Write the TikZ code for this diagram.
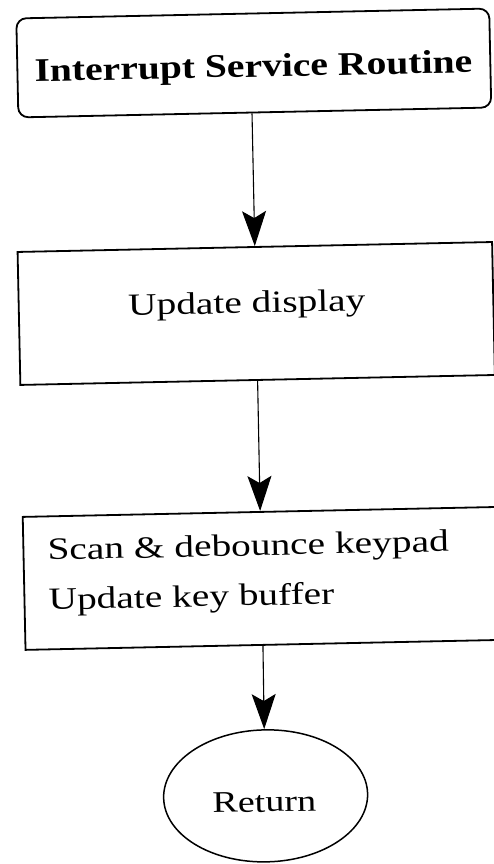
\documentclass[tikz,border=0pt]{standalone}
\usepackage{fontspec}
\usetikzlibrary{arrows.meta,shapes.geometric}
% wide serif faces for the flowchart labels
\newfontfamily\headfont[FakeStretch=1.2]{Liberation Serif}
\newfontfamily\bodyfont[FakeStretch=1.27]{Liberation Serif}
\tikzset{
  boxline/.style={draw=black, line width=1.8pt},
  stepbox/.style={boxline, rectangle, inner sep=0pt},
  label text/.style={inner sep=0pt, font=\bodyfont\fontsize{31}{34}\selectfont},
  head text/.style={inner sep=0pt, font=\headfont\bfseries\fontsize{33}{36}\selectfont},
  flowarrow/.style={draw=black, line width=1.1pt,
    -{Stealth[length=35pt, width=24pt, inset=7pt]}}
}
\begin{document}
\begin{tikzpicture}[x=1pt, y=-1pt]
  \useasboundingbox (0,0) rectangle (493,864);
  \begin{scope}[rotate around={1.2:(256,432)}, transform shape]
    % process boxes
    \node[stepbox, rounded corners=10pt, minimum width=473pt, minimum height=99pt]
      (isr) at (261.5,63) {};
    \node[stepbox, minimum width=474.6pt, minimum height=133pt]
      (disp) at (258.7,313.5) {};
    \node[stepbox, minimum width=475pt, minimum height=133pt]
      (keys) at (258.5,578.5) {};
    \node[boxline, ellipse, line width=1.5pt, inner sep=0pt,
      minimum width=204pt, minimum height=132pt] (ret) at (258,796) {};

    % texts
    \node[head text, anchor=base] (isr-t) at (261,77) {Interrupt Service Routine};
    \node[label text, anchor=base west] (disp-t) at (130.7,312.8) {Update display};
    \node[label text, anchor=base west] (keys-t1) at (45,555.6) {Scan \& debounce keypad};
    \node[label text, anchor=base west] (keys-t2) at (45,605.6) {Update key buffer};
    \node[label text, font=\bodyfont\fontsize{30}{32}\selectfont, anchor=base]
      (ret-t) at (256.5,812) {Return};

    % flow
    \draw[flowarrow] (disp.north |- isr.south) -- (disp.north);
    \draw[flowarrow] (disp.south) -- (keys.north);
    \draw[flowarrow] (keys.south) -- (ret.north);
  \end{scope}
\end{tikzpicture}
\end{document}
